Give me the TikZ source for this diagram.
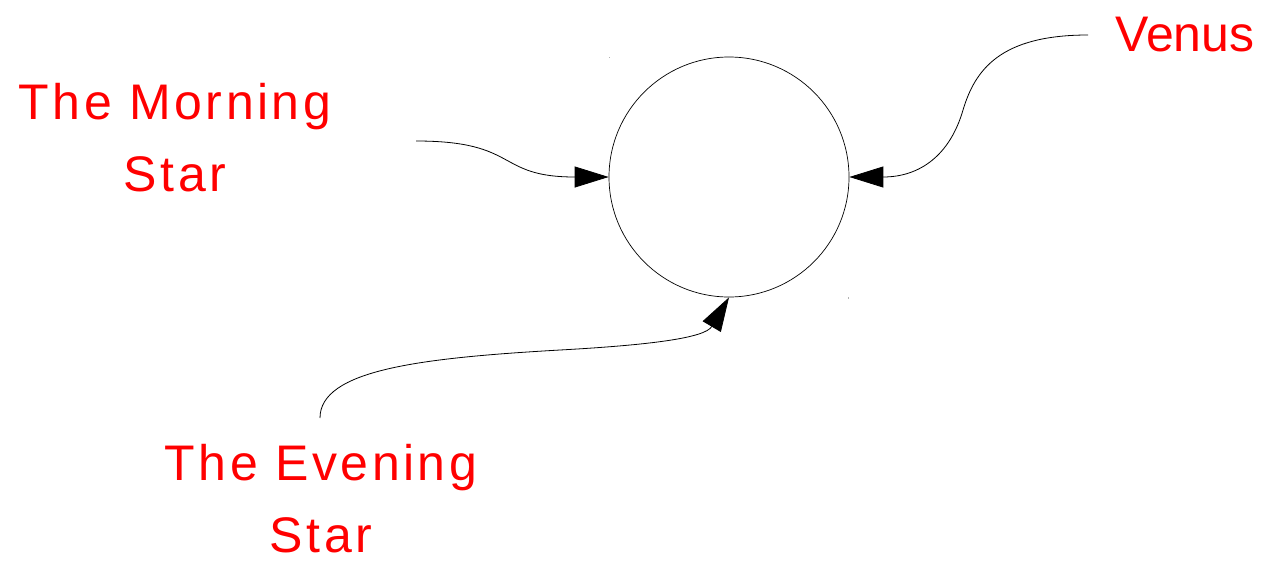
\documentclass[tikz,border=0pt]{standalone}
\usepackage{fontspec}
\setmainfont{Liberation Sans}
\usetikzlibrary{arrows.meta,positioning,calc}

\begin{document}
\begin{tikzpicture}[x=1pt, y=-1pt,
        lbl/.style={text=red, align=center, inner sep=0pt,
            font=\fontsize{50}{74}\selectfont},
        wide/.style={font=\fontsize{50}{72}\selectfont\addfontfeature{LetterSpace=7}},
        body/.style={draw, circle, line width=0.7pt, minimum size=240pt, inner sep=0pt},
        link/.style={-{Triangle[length=34pt, width=21pt]}, line width=0.8pt}]
        \useasboundingbox (0,0) rectangle (1276,560);
        \node[body] (planet) at (729,177) {};
        \node[lbl, wide, anchor=base] (morning) at (175,191) {The Morning\\ Star};
        \node[lbl, anchor=base] (name) at (1185,51) {Venus};
        \node[lbl, wide, anchor=base, text depth=0pt] (evening) at (321,552) {The Evening\\ Star};
        \coordinate (ms) at (416,141);
        \coordinate (vs) at (1088,35);
        \coordinate (es) at (320,418);
        \draw[link] (ms) .. controls (520,141) and (495,177) .. (planet.west);
        \draw[link] (vs) .. controls (1000,35) and (975,70) .. (963,110)
            .. controls (950,155) and (920,177) .. (planet.east);
        \draw[link] (es) .. controls (320,370) and (420,358) .. (560,350)
            .. controls (650,345) and (705,338) .. (planet.south);
        % corner marks
        \fill[gray!60] (planet.west |- planet.north) rectangle ++(1.5,1.5);
        \fill[gray!60] (planet.east |- planet.south) rectangle ++(-1.5,1.5);
    \end{tikzpicture}
\end{document}
